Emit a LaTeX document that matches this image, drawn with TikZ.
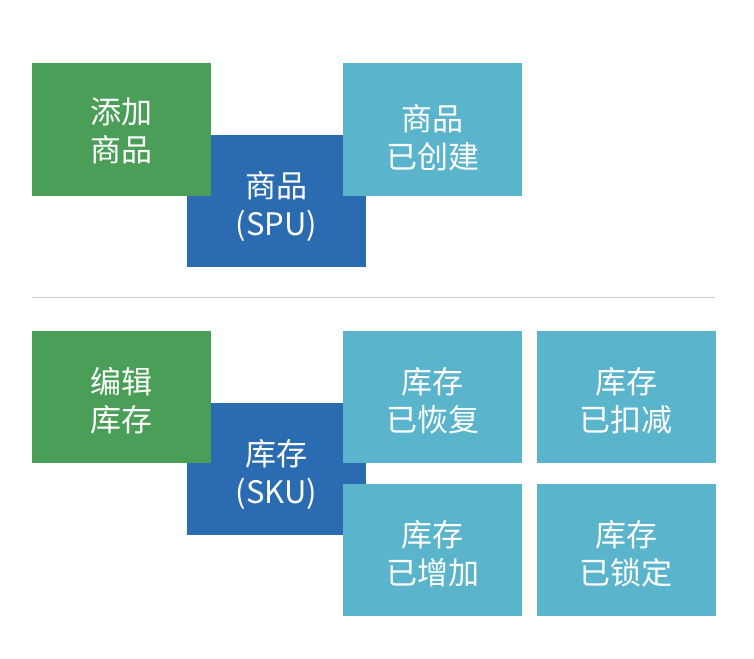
\documentclass[tikz,border=0pt]{standalone}
\usepackage{fontspec}
\setmainfont{Noto Sans CJK SC}
\definecolor{gruen}{HTML}{4A9E58}
\definecolor{blau}{HTML}{2B6BB1}
\definecolor{hellblau}{HTML}{5AB4CC}
\definecolor{linie}{HTML}{CCCCCC}
\tikzset{
  kasten/.style={minimum width=179pt, minimum height=132pt, inner sep=0pt,
    text height=74pt, text depth=6pt,
    text=white, align=center, font=\fontsize{31}{38}\selectfont},
  gruenkasten/.style={kasten, fill=gruen},
  blaukasten/.style={kasten, fill=blau},
  hellkasten/.style={kasten, fill=hellblau}
}
\begin{document}
\begin{tikzpicture}[x=1pt, y=-1pt]
\useasboundingbox (0, 0) rectangle (754, 658);

% Produkt
\node [blaukasten] (spu) at (276.5, 201) {商品\\(SPU)};
\node [gruenkasten, text height=70pt] (add) at (121.5, 129.5) {添加\\商品};
\node [hellkasten, text height=84pt] (created) at (432.5, 129.5) {商品\\已创建};

\draw [linie, line width=1.5pt] (32, 297.5) -- (715, 297.5);

% Lager
\node [blaukasten] (sku) at (276.5, 469) {库存\\(SKU)};
\node [gruenkasten] (edit) at (121.5, 397) {编辑\\库存};
\node [hellkasten] (restored) at (432.5, 397) {库存\\已恢复};
\node [hellkasten] (deducted) at (626, 397) {库存\\已扣减};
\node [hellkasten] (added) at (432.5, 550) {库存\\已增加};
\node [hellkasten] (locked) at (626, 550) {库存\\已锁定};
\end{tikzpicture}
\end{document}
